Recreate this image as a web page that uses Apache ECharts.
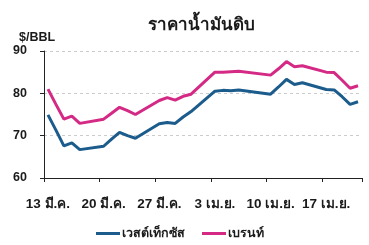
<!DOCTYPE html>
<html><head><meta charset="utf-8">
<script src="https://cdn.jsdelivr.net/npm/echarts@6/dist/echarts.min.js"></script>
<style>html,body{margin:0;padding:0;background:#fff}#c{width:369px;height:245px}</style>
</head><body><div id="c"></div>
<script>
var categories = [
 "13 มี.ค.","14 มี.ค.","15 มี.ค.","16 มี.ค.","17 มี.ค.","18 มี.ค.","19 มี.ค.",
 "20 มี.ค.","21 มี.ค.","22 มี.ค.","23 มี.ค.","24 มี.ค.","25 มี.ค.","26 มี.ค.",
 "27 มี.ค.","28 มี.ค.","29 มี.ค.","30 มี.ค.","31 มี.ค.","1 เม.ย.","2 เม.ย.",
 "3 เม.ย.","4 เม.ย.","5 เม.ย.","6 เม.ย.","7 เม.ย.","8 เม.ย.","9 เม.ย.",
 "10 เม.ย.","11 เม.ย.","12 เม.ย.","13 เม.ย.","14 เม.ย.","15 เม.ย.","16 เม.ย.",
 "17 เม.ย.","18 เม.ย.","19 เม.ย.","20 เม.ย.","21 เม.ย."
];
var wti = [
 74.9,71.3,67.6,68.3,66.7,null,null,
 67.5,69.2,70.8,70.0,69.4,null,null,
 72.8,73.1,72.9,74.4,75.7,null,null,
 80.5,80.7,80.6,80.8,null,null,null,
 79.8,81.5,83.3,82.1,82.5,null,null,
 80.9,80.8,79.2,77.4,78.0
];
var brent = [
 81.0,77.4,73.9,74.6,72.9,null,null,
 73.9,75.3,76.7,75.9,75.0,null,null,
 78.3,79.0,78.4,79.3,79.8,null,null,
 85.0,85.0,85.1,85.2,null,null,null,
 84.3,85.8,87.5,86.3,86.5,null,null,
 85.0,84.9,83.1,81.2,81.8
];
var seriesNames = ["เวสต์เท็กซัส","เบรนท์"];
var yTicks = {min:60,max:90,interval:10};

var FONT = "'Liberation Sans', 'Noto Sans', sans-serif";
var chart = echarts.init(document.getElementById('c'));
chart.setOption({
  animation:false,
  textStyle:{fontFamily:FONT},
  title:[
    {text:"ราคาน้ำมันดิบ", left:143, top:12, textStyle:{fontSize:17,fontWeight:'bold',color:'#1a1a1a',fontFamily:FONT}},
    {text:"$/BBL", left:14, top:26, textStyle:{fontSize:12.5,fontWeight:'bold',color:'#1a1a1a',fontFamily:FONT}}
  ],
  grid:{left:44,right:7,top:51,bottom:67,containLabel:false},
  legend:{
    left:91, top:222, itemWidth:24, itemHeight:3, itemGap:17, icon:'rect',
    textStyle:{fontSize:12.5,fontWeight:'bold',color:'#1a1a1a',padding:[0,0,0,-3],fontFamily:FONT},
    data:seriesNames
  },
  xAxis:{
    type:'category', data:categories, boundaryGap:true,
    axisLine:{lineStyle:{color:'#222',width:1}},
    axisTick:{show:true,interval:6,length:4,lineStyle:{color:'#222'}},
    axisLabel:{interval:6,fontSize:13.5,fontWeight:'bold',color:'#1a1a1a',margin:19,fontFamily:FONT},
    splitLine:{show:false}
  },
  yAxis:{
    type:'value', min:yTicks.min, max:yTicks.max, interval:yTicks.interval,
    axisLine:{show:true,lineStyle:{color:'#222',width:1}},
    axisTick:{show:true,length:4,lineStyle:{color:'#222'}},
    axisLabel:{fontSize:12.5,fontWeight:'bold',color:'#1a1a1a',margin:17,fontFamily:FONT},
    splitLine:{show:true,lineStyle:{color:'#cccccc',type:[3,3],width:1}}
  },
  series:[
    {name:seriesNames[0],type:'line',data:wti,connectNulls:true,showSymbol:false,symbol:'none',
     lineStyle:{color:'#1b5c8c',width:3},itemStyle:{color:'#1b5c8c'}},
    {name:seriesNames[1],type:'line',data:brent,connectNulls:true,showSymbol:false,symbol:'none',
     lineStyle:{color:'#d42a85',width:3},itemStyle:{color:'#d42a85'}}
  ]
});
</script></body></html>
